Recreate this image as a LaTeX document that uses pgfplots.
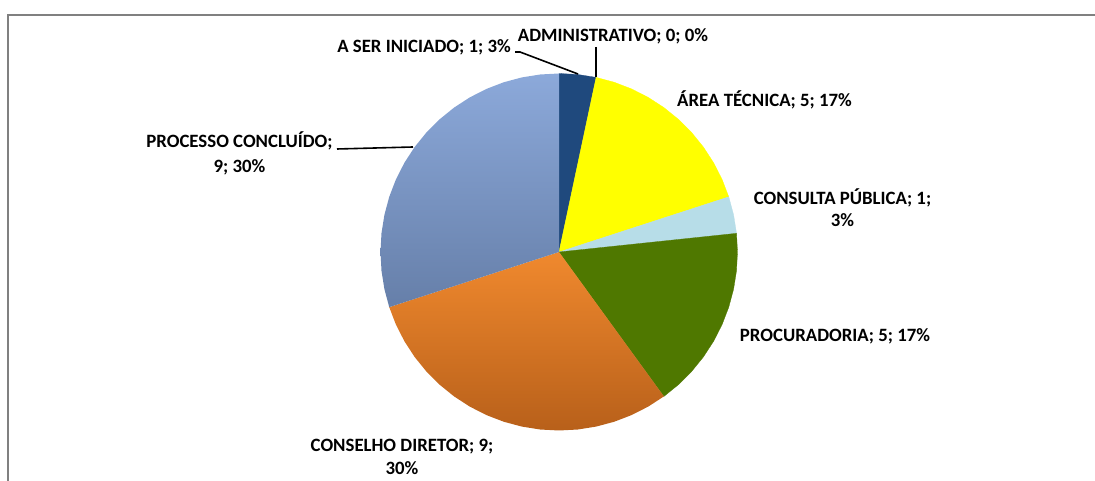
\documentclass[border=0pt]{standalone}
\usepackage{pgfplots}
\pgfplotsset{compat=1.18}
\usepgfplotslibrary{polar}
\usepackage{fontspec}
\setmainfont{Carlito}
\definecolor{cDark}{HTML}{1F497D}
\definecolor{cYel}{HTML}{FFFF00}
\definecolor{cLBlue}{HTML}{B7DDE8}
\definecolor{cGreen}{HTML}{4F7800}
\definecolor{cOrT}{HTML}{F0892E}
\definecolor{cOrB}{HTML}{B8601A}
\definecolor{cBlT}{HTML}{8CA9DA}
\definecolor{cBlB}{HTML}{667FA9}
\definecolor{frame}{HTML}{808080}
\begin{document}
\begin{tikzpicture}[x=1pt,y=1pt]
\useasboundingbox (0,0) rectangle (1095,481);
\draw[frame,line width=2.2pt] (7.8,-2) -- (7.8,466.3) -- (1097,466.3);
\begin{polaraxis}[
  at={(559pt,229pt)}, anchor=center,
  width=357pt, height=357pt, scale only axis,
  xmin=0, xmax=360, ymin=0, ymax=1,
  hide axis, clip=false,
]
% A SER INICIADO: 1
\addplot[fill=cDark, draw=cDark, line width=0.3pt] coordinates {(0,0) (90,1) (84,1) (78,1)} -- cycle;
% ADMINISTRATIVO: 0
\addplot[draw=none] coordinates {(78,0) (78,1)};
% AREA TECNICA: 5
\addplot[fill=cYel, draw=cYel, line width=0.3pt] coordinates {(0,0) (78,1) (72,1) (66,1) (60,1) (54,1) (48,1) (42,1) (36,1) (30,1) (24,1) (18,1)} -- cycle;
% CONSULTA PUBLICA: 1
\addplot[fill=cLBlue, draw=cLBlue, line width=0.3pt] coordinates {(0,0) (18,1) (12,1) (6,1)} -- cycle;
% PROCURADORIA: 5
\addplot[fill=cGreen, draw=cGreen, line width=0.3pt] coordinates {(0,0) (6,1) (0,1) (354,1) (348,1) (342,1) (336,1) (330,1) (324,1) (318,1) (312,1) (306,1)} -- cycle;
% CONSELHO DIRETOR: 9
\addplot[top color=cOrT, bottom color=cOrB, draw=none] coordinates {(0,0) (306,1) (300,1) (294,1) (288,1) (282,1) (276,1) (270,1) (264,1) (258,1) (252,1) (246,1) (240,1) (234,1) (228,1) (222,1) (216,1) (210,1) (204,1) (198,1)} -- cycle;
% PROCESSO CONCLUIDO: 9
\addplot[top color=cBlT, bottom color=cBlB, draw=none] coordinates {(0,0) (198,1) (192,1) (186,1) (180,1) (174,1) (168,1) (162,1) (156,1) (150,1) (144,1) (138,1) (132,1) (126,1) (120,1) (114,1) (108,1) (102,1) (96,1) (90,1)} -- cycle;
\end{polaraxis}
\draw[black,line width=1.6pt] (515,429) -- (520,429) -- (578,407);
\draw[black,line width=1.6pt] (596,434) -- (596,404);
\draw[black,line width=1.6pt] (337,332) -- (413,334);
\tikzset{lab/.style={font=\fontsize{18.8}{22}\selectfont\bfseries, anchor=base, inner sep=0pt}}
\node[lab] at (424,428) {A SER INICIADO; 1; 3\%};
\node[lab] at (613,439) {ADMINISTRATIVO; 0; 0\%};
\node[lab, anchor=base west] at (677,374) {ÁREA TÉCNICA; 5; 17\%};
\node[lab] at (842.5,276) {CONSULTA PÚBLICA; 1;};
\node[lab] at (842.5,254) {3\%};
\node[lab] at (835,139) {PROCURADORIA; 5; 17\%};
\node[lab] at (402,29) {CONSELHO DIRETOR; 9;};
\node[lab] at (402,6) {30\%};
\node[lab] at (239.5,333) {PROCESSO CONCLUÍDO;};
\node[lab] at (239.5,308) {9; 30\%};
\end{tikzpicture}
\end{document}
